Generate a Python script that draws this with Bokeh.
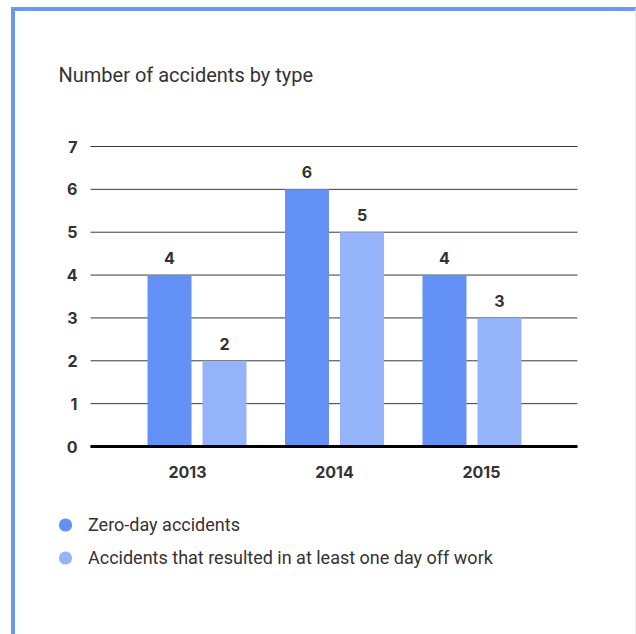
import numpy as np
from bokeh.plotting import figure
from bokeh.layouts import column
from bokeh.models import Range1d, FixedTicker, Legend, LegendItem, ColumnDataSource, Label
from bokeh.core.properties import value
from bokeh.embed import file_html
from bokeh.resources import INLINE

# ---- data ----
title_text = "Number of accidents by type"
years = ["2013", "2014", "2015"]
zero_day = [4, 6, 4]
day_off = [2, 5, 3]
series_names = ["Zero-day accidents", "Accidents that resulted in at least one day off work"]
y_ticks = [0, 1, 2, 3, 4, 5, 6, 7]

# ---- style ----
DARK = "#6391f6"
LIGHT = "#95b3f9"
TXT = "#333333"
NUM_FONT = value("Inter")
LBL_FONT = "Roboto"

centers = np.arange(len(years)) + 0.5
dodge = 0.2
bar_w = 0.32
label_shift = np.array([-0.069, 0.0, 0.069])  # labels spread slightly wider than bars

# plotting area (data units) and the wider frame that also holds title and legend
PX_X = 137.5      # px per x unit
PX_Y = 42.857     # px per y unit
xa0, xa1 = -0.2745, 3.267          # chart area x extent
FRAME_L, FRAME_W = 45, 590          # page px
FRAME_T, FRAME_B = 11, 589
Y0_PAGE, XA0_PAGE = 446, 90
xr0 = xa0 - (XA0_PAGE - FRAME_L) / PX_X
xr1 = xr0 + FRAME_W / PX_X
yr0 = -(FRAME_B - Y0_PAGE) / PX_Y
yr1 = (Y0_PAGE - FRAME_T) / PX_Y

p = figure(width=620, height=623, x_range=Range1d(xr0, xr1), y_range=Range1d(yr0, yr1),
           output_backend="svg", toolbar_location=None,
           min_border_left=30, min_border_right=0, min_border_top=0, min_border_bottom=45)
p.outline_line_color = None
p.background_fill_color = "white"
p.border_fill_color = "white"
p.grid.visible = False

# gridlines limited to the chart area
p.segment(x0=xa0, x1=xa1, y0=y_ticks, y1=y_ticks, line_color="#3a3a3a", line_width=1)

src_a = ColumnDataSource(dict(x=centers - dodge, top=zero_day, t=[str(v) for v in zero_day]))
src_b = ColumnDataSource(dict(x=centers + dodge, top=day_off, t=[str(v) for v in day_off]))

p.vbar(x="x", top="top", width=bar_w, source=src_a, fill_color=DARK, line_color=None)
p.vbar(x="x", top="top", width=bar_w, source=src_b, fill_color=LIGHT, line_color=None)

for src in (src_a, src_b):
    p.text(x="x", y="top", text="t", source=src, text_align="center", text_baseline="alphabetic",
           y_offset=-17, text_font=NUM_FONT, text_font_style="bold", text_font_size="16px",
           text_color=TXT)

# axes drawn at fixed data locations inside the frame
p.yaxis.fixed_location = xa0
p.yaxis.ticker = FixedTicker(ticks=y_ticks)
p.yaxis.axis_line_color = None
p.yaxis.major_tick_line_color = None
p.yaxis.minor_tick_line_color = None
p.yaxis.major_tick_out = 0
p.yaxis.major_label_standoff = 13
p.yaxis.major_label_text_font = "Inter"
p.yaxis.major_label_text_font_style = "bold"
p.yaxis.major_label_text_font_size = "16px"
p.yaxis.major_label_text_color = TXT

xt = [float(v) for v in (centers + label_shift)]
p.xaxis.fixed_location = 0
p.xaxis.bounds = (xa0, xa1)
p.xaxis.ticker = FixedTicker(ticks=xt)
p.xaxis.major_label_overrides = {t: y for t, y in zip(xt, years)}
p.xaxis.axis_line_color = "black"
p.xaxis.axis_line_width = 3
p.xaxis.major_tick_line_color = None
p.xaxis.minor_tick_line_color = None
p.xaxis.major_tick_out = 0
p.xaxis.major_label_standoff = 19
p.xaxis.major_label_text_font = "Inter"
p.xaxis.major_label_text_font_style = "bold"
p.xaxis.major_label_text_font_size = "16px"
p.xaxis.major_label_text_color = TXT

# title
p.add_layout(Label(x=xa0 + (58 - XA0_PAGE) / PX_X, y=(Y0_PAGE - 74) / PX_Y, text=title_text,
                   text_font=LBL_FONT, text_font_size="20px", text_color=TXT,
                   text_baseline="alphabetic", text_align="left"))

# legend (legend-only renderers placed outside the visible range)
ra = p.scatter(x=[100], y=[100], marker="circle", size=14, fill_color=DARK, line_color=None)
rb = p.scatter(x=[100], y=[100], marker="circle", size=14, fill_color=LIGHT, line_color=None)
leg = Legend(items=[LegendItem(label=series_names[0], renderers=[ra]),
                    LegendItem(label=series_names[1], renderers=[rb])],
             location=(1, 15), orientation="vertical",
             glyph_width=38, glyph_height=33, label_height=33, label_standoff=4,
             spacing=0, padding=0, margin=0,
             border_line_color=None, background_fill_alpha=0,
             label_text_font=LBL_FONT, label_text_font_size="18px", label_text_color=TXT)
p.add_layout(leg, "center")

layout = column(p, spacing=0,
                styles={"margin-left": "11px", "margin-top": "7px",
                        "border-top": "4px solid #6a98f3", "border-left": "4px solid #6a98f3",
                        "border-right": "1px solid #ececf4"})

open("out.html", "w").write(file_html(layout, INLINE))
